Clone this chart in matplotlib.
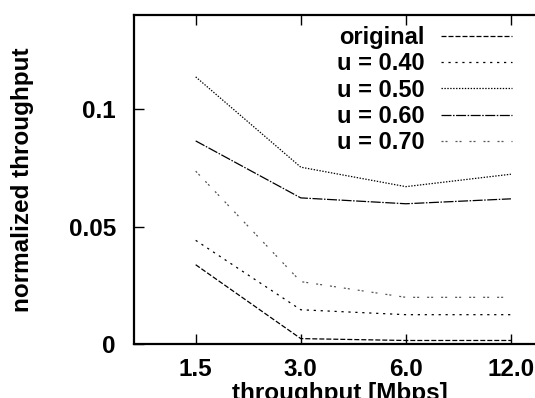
import matplotlib
matplotlib.use("Agg")
import matplotlib.pyplot as plt

categories = ["1.5", "3.0", "6.0", "12.0"]
original = [0.0338, 0.0023, 0.0015, 0.0015]
u040 = [0.0442, 0.0146, 0.0125, 0.0125]
u050 = [0.1139, 0.0754, 0.0671, 0.0724]
u060 = [0.0866, 0.0623, 0.0598, 0.0619]
u070 = [0.0737, 0.0266, 0.0199, 0.0199]

series = [
    ("original", original, (0, (3.6, 1.44)), "black"),
    ("u = 0.40", u040, (0, (1.6, 3.4)), "black"),
    ("u = 0.50", u050, (0, (1.0, 1.1)), "black"),
    ("u = 0.60", u060, (0, (7.2, 1.1, 1.1, 1.1)), "black"),
    ("u = 0.70", u070, (0, (1.44, 1.44, 1.44, 5.76)), "#555555"),
]

plt.rcParams["font.family"] = ["Liberation Sans", "DejaVu Sans"]
plt.rcParams["font.weight"] = "bold"
plt.rcParams["axes.labelweight"] = "bold"
plt.rcParams["lines.scale_dashes"] = False

fig = plt.figure(figsize=(5.35, 3.98), dpi=100)
# axes runs off the right edge of the figure, as in the original
ax = fig.add_axes([134 / 535, 1 - 344 / 398, 440 / 535, 329.5 / 398])

x = list(range(len(categories)))
for name, vals, ls, col in series:
    ax.plot(x, vals, linestyle=ls, color=col, linewidth=0.9, label=name)

ax.set_xlim(-0.587, 3.6)
ax.set_ylim(0, 0.1405)
ax.set_xticks(x)
ax.set_xticklabels(categories)
ax.set_yticks([0, 0.05, 0.1])
ax.set_yticklabels(["0", "0.05", "0.1"])

for s in ax.spines.values():
    s.set_linewidth(1.6)
ax.tick_params(axis="x", direction="in", length=7, width=1, top=True,
               labelsize=17.5, pad=10)
ax.tick_params(axis="y", direction="in", length=7, width=1, right=False,
               labelsize=17.5, pad=13)

ax.set_xlabel("throughput [Mbps]", fontsize=17.5, labelpad=0)
ax.xaxis.set_label_coords(206 / 440, -38 / 329.5)
ax.set_ylabel("normalized throughput", fontsize=17.5)
ax.yaxis.set_label_coords(-100 / 440, 0.5)

leg = ax.legend(loc="upper right", bbox_to_anchor=(512 / 535, 1 - 26 / 398),
                bbox_transform=fig.transFigure, frameon=False, markerfirst=False,
                fontsize=17, handlelength=3.0, handletextpad=0.7,
                labelspacing=0.14, borderpad=0, borderaxespad=0)

fig.savefig("out.png", dpi=100)
